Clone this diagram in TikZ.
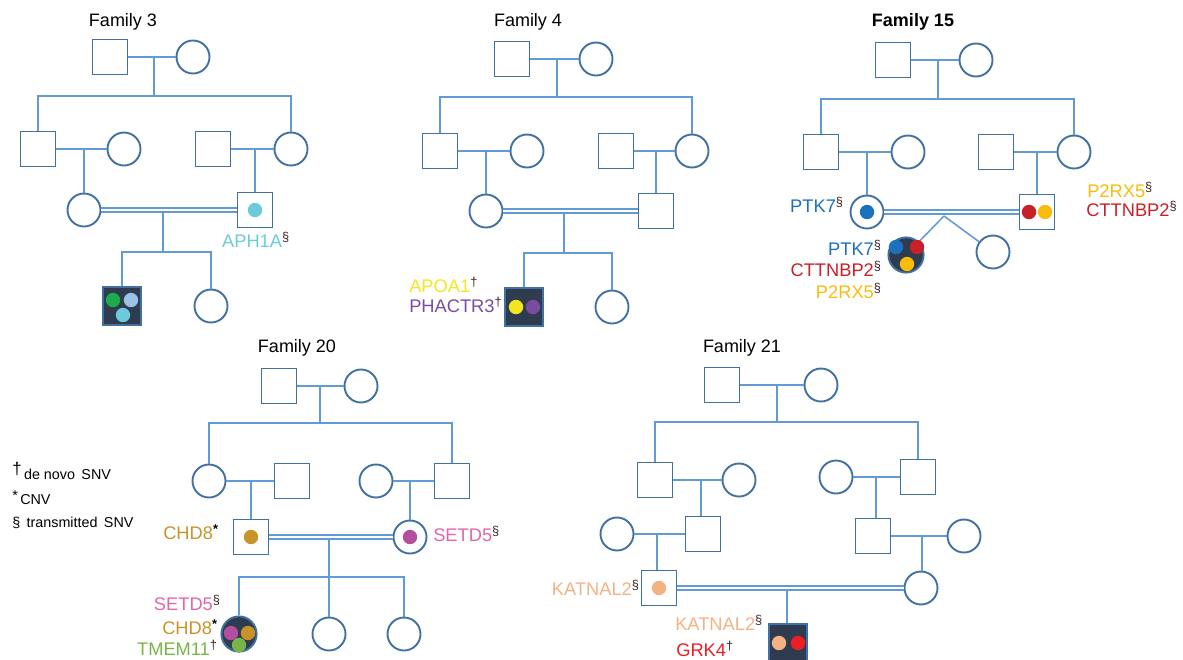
\documentclass[tikz,border=0pt]{standalone}
\usepackage{fontspec}
\setmainfont{Liberation Sans}
\usepackage{xcolor}

\definecolor{symb}{RGB}{65,113,160}
\definecolor{rel}{RGB}{98,155,212}
\definecolor{navy}{RGB}{47,59,79}
\definecolor{mk}{RGB}{60,40,40}
\definecolor{cgreen}{RGB}{29,172,75}
\definecolor{clblue}{RGB}{155,194,230}
\definecolor{ccyan}{RGB}{108,203,219}
\definecolor{cyellow}{RGB}{244,230,30}
\definecolor{cpurple}{RGB}{122,76,160}
\definecolor{cblue}{RGB}{28,112,190}
\definecolor{cred}{RGB}{200,32,40}
\definecolor{camber}{RGB}{250,188,12}
\definecolor{cgold}{RGB}{200,148,42}
\definecolor{cmagenta}{RGB}{180,78,158}
\definecolor{cpink}{RGB}{226,102,170}
\definecolor{ctgreen}{RGB}{120,180,72}
\definecolor{cpeach}{RGB}{243,178,132}
\definecolor{cbright}{RGB}{236,30,36}

\newcommand\trm{\textsuperscript{\color{mk}§}}
\newcommand\dnm{\textsuperscript{\color{mk}†}}
\newcommand\cnm{\textsuperscript{\color{black}\bfseries *}}

\tikzset{
    male/.style={draw=symb, line width=1.35pt, rectangle, minimum size=0.875cm, inner sep=0pt, fill=white},
    female/.style={draw=symb, line width=1.35pt, circle, minimum size=0.825cm, inner sep=0pt, fill=white},
    affmale/.style={male, fill=navy, minimum size=0.93cm},
    afffemale/.style={female, fill=navy, minimum size=0.88cm},
    link/.style={draw=rel, line width=1.1pt},
    consang/.style={draw=rel, line width=0.8pt, double=white, double distance=2pt},
    famlabel/.style={font=\fontsize{12.8}{14}\selectfont, inner sep=0pt},
    gene/.style={font=\fontsize{13}{15}\selectfont, inner sep=0pt},
    legend/.style={font=\fontsize{10.2}{12}\selectfont, inner sep=0pt, anchor=west},
}

\begin{document}
\begin{tikzpicture}[x=0.025cm, y=-0.025cm]

    \useasboundingbox (0,0) rectangle (1183,659);

    % ---------- Family 3
    \node[famlabel] (f3t) at (123,22) {Family 3};
    \node[male] (f3a) at (110,57) {};
    \node[female] (f3b) at (193,57) {};
    \node[male] (f3c) at (38,149) {};
    \node[female] (f3d) at (124,149) {};
    \node[male] (f3e) at (213,149) {};
    \node[female] (f3f) at (291,149) {};
    \node[female] (f3g) at (84,210) {};
    \node[male] (f3h) at (255,210) {};
    \node[affmale] (f3i) at (122,306) {};
    \node[female] (f3j) at (211,306) {};
    \coordinate (f3m0) at (154,57);
    \coordinate (f3s0) at (154,96);
    \coordinate (f3m1) at (84,149);
    \coordinate (f3m2) at (255,149);
    \coordinate (f3m3) at (163,212);
    \coordinate (f3s1) at (163,252);

    \draw[link] (f3a) -- (f3b);
    \draw[link] (f3m0) -- (f3s0);
    \draw[link] (f3c.north) |- (f3s0) -| (f3f.north);
    \draw[link] (f3c) -- (f3d);
    \draw[link] (f3e) -- (f3f);
    \draw[link] (f3m1) -- (f3g.north);
    \draw[link] (f3m2) -- (f3h.north);
    \draw[consang] (f3g) -- (f3h);
    \draw[link] (f3m3) -- (f3s1);
    \draw[link] (f3i.north) |- (f3s1) -| (f3j.north);

    \fill[ccyan] (f3h) circle (0.18cm);
    \fill[cgreen] (113,300) circle (0.18cm);
    \fill[clblue] (131,300) circle (0.18cm);
    \fill[ccyan] (123,315) circle (0.18cm);
    \node[gene, text=ccyan] (f3l) at (256,240) {APH1A\trm};

    % ---------- Family 4
    \node[famlabel] (f4t) at (528,22) {Family 4};
    \node[male] (f4a) at (512,59) {};
    \node[female] (f4b) at (596,59) {};
    \node[male] (f4c) at (440,151) {};
    \node[female] (f4d) at (527,151) {};
    \node[male] (f4e) at (616,151) {};
    \node[female] (f4f) at (692,151) {};
    \node[female] (f4g) at (486,211) {};
    \node[male] (f4h) at (656,211) {};
    \node[affmale] (f4i) at (524,307) {};
    \node[female] (f4j) at (612,307) {};
    \coordinate (f4m0) at (557,59);
    \coordinate (f4s0) at (557,97);
    \coordinate (f4m1) at (486,151);
    \coordinate (f4m2) at (656,151);
    \coordinate (f4m3) at (564,213);
    \coordinate (f4s1) at (564,253);

    \draw[link] (f4a) -- (f4b);
    \draw[link] (f4m0) -- (f4s0);
    \draw[link] (f4c.north) |- (f4s0) -| (f4f.north);
    \draw[link] (f4c) -- (f4d);
    \draw[link] (f4e) -- (f4f);
    \draw[link] (f4m1) -- (f4g.north);
    \draw[link] (f4m2) -- (f4h.north);
    \draw[consang] (f4g) -- (f4h);
    \draw[link] (f4m3) -- (f4s1);
    \draw[link] (f4i.north) |- (f4s1) -| (f4j.north);

    \fill[cyellow] (516,307) circle (0.18cm);
    \fill[cpurple] (533,307) circle (0.18cm);
    \node[gene, text=cyellow, anchor=west] (f4l1) at (409,285) {APOA1\dnm};
    \node[gene, text=cpurple, anchor=west] (f4l2) at (409,305) {PHACTR3\dnm};

    % ---------- Family 15
    \node[famlabel, font=\fontsize{12.8}{14}\selectfont\bfseries] (f15t) at (913,22) {Family 15};
    \node[male] (f15a) at (893,60) {};
    \node[female] (f15b) at (976,60) {};
    \node[male] (f15c) at (821,152) {};
    \node[female] (f15d) at (908,152) {};
    \node[male] (f15e) at (996,152) {};
    \node[female] (f15f) at (1074,152) {};
    \node[female] (f15g) at (867,212) {};
    \node[male] (f15h) at (1037,212) {};
    \node[afffemale] (f15i) at (906,255) {};
    \node[female] (f15j) at (993,252) {};
    \coordinate (f15m0) at (938,60);
    \coordinate (f15s0) at (938,99);
    \coordinate (f15m1) at (867,152);
    \coordinate (f15m2) at (1037,152);
    \coordinate (f15m3) at (944,216);

    \draw[link] (f15a) -- (f15b);
    \draw[link] (f15m0) -- (f15s0);
    \draw[link] (f15c.north) |- (f15s0) -| (f15f.north);
    \draw[link] (f15c) -- (f15d);
    \draw[link] (f15e) -- (f15f);
    \draw[link] (f15m1) -- (f15g.north);
    \draw[link] (f15m2) -- (f15h.north);
    \draw[consang] (f15g) -- (f15h);
    \draw[link] (f15m3) -- (f15i);
    \draw[link] (f15m3) -- (f15j);

    \fill[cblue] (f15g) circle (0.18cm);
    \fill[cred] (1029,212) circle (0.18cm);
    \fill[camber] (1045,212) circle (0.18cm);
    \fill[cblue] (896,247) circle (0.18cm);
    \fill[cred] (917,247) circle (0.18cm);
    \fill[camber] (907,264) circle (0.18cm);
    \node[gene, text=cblue] (f15l1) at (817,205) {PTK7\trm};
    \node[gene, text=camber, anchor=west] (f15l2) at (1087,190) {P2RX5\trm};
    \node[gene, text=cred, anchor=west] (f15l3) at (1086,209) {CTTNBP2\trm};
    \node[gene, text=cblue, anchor=east] (f15l4) at (882,248) {PTK7\trm};
    \node[gene, text=cred, anchor=east] (f15l5) at (882,269) {CTTNBP2\trm};
    \node[gene, text=camber, anchor=east] (f15l6) at (882,291) {P2RX5\trm};

    % ---------- Family 20
    \node[famlabel] (f20t) at (297,348) {Family 20};
    \node[male] (f20a) at (279,386) {};
    \node[female] (f20b) at (361,386) {};
    \node[female] (f20c) at (209,481) {};
    \node[male] (f20d) at (292,481) {};
    \node[female] (f20e) at (376,481) {};
    \node[male] (f20f) at (452,481) {};
    \node[male] (f20g) at (251,537) {};
    \node[female] (f20h) at (410,537) {};
    \node[afffemale] (f20i) at (239,634) {};
    \node[female] (f20j) at (329,634) {};
    \node[female] (f20k) at (404,634) {};
    \coordinate (f20m0) at (320,386);
    \coordinate (f20s0) at (320,423);
    \coordinate (f20m1) at (251,481);
    \coordinate (f20m2) at (410,481);
    \coordinate (f20m3) at (329,539);
    \coordinate (f20s1) at (329,577);

    \draw[link] (f20a) -- (f20b);
    \draw[link] (f20m0) -- (f20s0);
    \draw[link] (f20c.north) |- (f20s0) -| (f20f.north);
    \draw[link] (f20c) -- (f20d);
    \draw[link] (f20e) -- (f20f);
    \draw[link] (f20m1) -- (f20g.north);
    \draw[link] (f20m2) -- (f20h.north);
    \draw[consang] (f20g) -- (f20h);
    \draw[link] (f20m3) -- (f20s1);
    \draw[link] (f20i.north) |- (f20s1) -| (f20k.north);
    \draw[link] (f20s1) -- (f20j.north);

    \fill[cgold] (f20g) circle (0.18cm);
    \fill[cmagenta] (f20h) circle (0.18cm);
    \fill[cmagenta] (231,633) circle (0.18cm);
    \fill[cgold] (248,633) circle (0.18cm);
    \fill[ctgreen] (239,645) circle (0.18cm);
    \node[gene, text=cgold, anchor=east] (f20l1) at (219,532) {CHD8\cnm};
    \node[gene, text=cpink, anchor=west] (f20l2) at (433,534) {SETD5\trm};
    \node[gene, text=cpink, anchor=east] (f20l3) at (221,603) {SETD5\trm};
    \node[gene, text=cgold, anchor=east] (f20l4) at (218,627) {CHD8\cnm};
    \node[gene, text=ctgreen, anchor=east] (f20l5) at (218,648) {TMEM11\dnm};

    % legend
    \node[legend] (leg1) at (12,471) {\raisebox{3pt}{\fontsize{12}{12}\selectfont †}\,de novo\, SNV};
    \node[legend] (leg2) at (12,498) {\raisebox{3pt}{*}\,CNV};
    \node[legend] (leg3) at (12,523) {§\,\ transmitted\, SNV};

    % ---------- Family 21
    \node[famlabel] (f21t) at (742,348) {Family 21};
    \node[male] (f21a) at (722,385) {};
    \node[female] (f21b) at (821,385) {};
    \node[male] (f21c) at (655,480) {};
    \node[female] (f21d) at (739,480) {};
    \node[female] (f21e) at (836,477) {};
    \node[male] (f21f) at (918,477) {};
    \node[female] (f21g) at (617,534) {};
    \node[male] (f21h) at (703,534) {};
    \node[male] (f21i) at (873,536) {};
    \node[female] (f21j) at (964,536) {};
    \node[male] (f21k) at (659,588) {};
    \node[female] (f21l) at (921,588) {};
    \node[affmale] (f21n) at (788,643) {};
    \coordinate (f21m0) at (777,385);
    \coordinate (f21s0) at (777,422);
    \coordinate (f21m1) at (701,480);
    \coordinate (f21m2) at (876,477);
    \coordinate (f21m3) at (657,534);
    \coordinate (f21m4) at (922,536);
    \coordinate (f21m5) at (787,590);

    \draw[link] (f21a) -- (f21b);
    \draw[link] (f21m0) -- (f21s0);
    \draw[link] (f21c.north) |- (f21s0) -| (f21f.north);
    \draw[link] (f21c) -- (f21d);
    \draw[link] (f21e) -- (f21f);
    \draw[link] (f21m1) -- (f21h.north -| f21m1);
    \draw[link] (f21m2) -- (f21i.north -| f21m2);
    \draw[link] (f21g) -- (f21h);
    \draw[link] (f21i) -- (f21j);
    \draw[link] (f21m3) -- (f21k.north -| f21m3);
    \draw[link] (f21m4) -- (f21l.north -| f21m4);
    \draw[consang] (f21k) -- (f21l);
    \draw[link] (f21m5) -- (f21n.north -| f21m5);

    \fill[cpeach] (f21k) circle (0.18cm);
    \fill[cpeach] (779,643) circle (0.18cm);
    \fill[cbright] (798,643) circle (0.18cm);
    \node[gene, text=cpeach, anchor=east] (f21l1) at (640,588) {KATNAL2\trm};
    \node[gene, text=cpeach, anchor=west] (f21l2) at (675,623) {KATNAL2\trm};
    \node[gene, text=cbright, anchor=west] (f21l3) at (676,649) {GRK4\dnm};

\end{tikzpicture}
\end{document}
